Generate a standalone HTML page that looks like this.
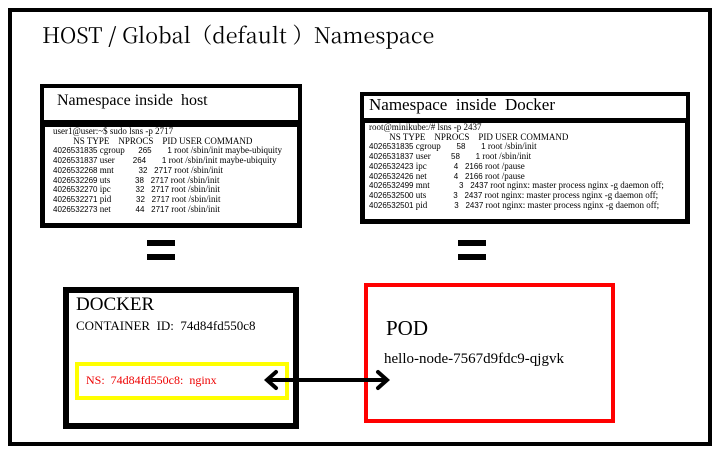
<!DOCTYPE html>
<html><head><style>
body{margin:0;width:720px;height:453px;background:#fff;position:relative;overflow:hidden;font-family:"Liberation Serif",serif;}
.a{position:absolute;box-sizing:border-box;}
.t{position:absolute;white-space:pre;font-size:9px;line-height:9.7px;font-family:"Liberation Serif",serif;color:#000;}
.t b{font-weight:normal;font-family:"Liberation Sans",sans-serif;font-size:8px;}
.bar{position:absolute;background:#000;height:6px;width:28px;}
</style></head><body>
<div class="a" style="left:8px;top:8px;width:704px;height:438px;border:4px solid #000;"></div>
<div class="a" style="left:42px;top:19px;font-size:21.5px;white-space:pre;font-family:'Noto Serif CJK SC','Liberation Serif',serif;">HOST <b>/</b> Global（default ）Namespace</div>

<div class="a" style="left:40px;top:84px;width:262px;height:40px;border:4px solid #000;"></div>
<div class="a" style="left:57px;top:92px;font-size:16px;white-space:pre;">Namespace inside  host</div>
<div class="a" style="left:40px;top:122px;width:262px;height:106px;border:5px solid #000;"></div>
<div class="t" style="left:53px;top:127px;">user1@user:~$ sudo lsns -p 2717
         NS TYPE    NPROCS    PID USER COMMAND
<b>4026531835</b> cgroup      <b>265</b>       <b>1</b> root /sbin/init maybe-ubiquity
<b>4026531837</b> user        <b>264</b>       <b>1</b> root /sbin/init maybe-ubiquity
<b>4026532268</b> mnt           <b>32</b>   <b>2717</b> root /sbin/init
<b>4026532269</b> uts           <b>38</b>   <b>2717</b> root /sbin/init
<b>4026532270</b> ipc           <b>32</b>   <b>2717</b> root /sbin/init
<b>4026532271</b> pid           <b>32</b>   <b>2717</b> root /sbin/init
<b>4026532273</b> net           <b>44</b>   <b>2717</b> root /sbin/init</div>

<div class="a" style="left:360px;top:92px;width:330px;height:30px;border:4px solid #000;"></div>
<div class="a" style="left:369px;top:95px;font-size:17px;white-space:pre;">Namespace  inside  Docker</div>
<div class="a" style="left:360px;top:118px;width:330px;height:106px;border:5px solid #000;"></div>
<div class="t" style="left:369px;top:123px;">root@minikube:/# lsns -p 2437
         NS TYPE    NPROCS    PID USER COMMAND
<b>4026531835</b> cgroup       <b>58</b>       <b>1</b> root /sbin/init
<b>4026531837</b> user         <b>58</b>       <b>1</b> root /sbin/init
<b>4026532423</b> ipc            <b>4</b>   <b>2166</b> root /pause
<b>4026532426</b> net            <b>4</b>   <b>2166</b> root /pause
<b>4026532499</b> mnt             <b>3</b>   <b>2437</b> root nginx: master process nginx -g daemon off;
<b>4026532500</b> uts            <b>3</b>   <b>2437</b> root nginx: master process nginx -g daemon off;
<b>4026532501</b> pid            <b>3</b>   <b>2437</b> root nginx: master process nginx -g daemon off;</div>

<div class="bar" style="left:147px;top:240px;"></div>
<div class="bar" style="left:147px;top:254px;"></div>
<div class="bar" style="left:458px;top:240px;"></div>
<div class="bar" style="left:458px;top:254px;"></div>

<div class="a" style="left:63px;top:287px;width:236px;height:142px;border:6px solid #000;"></div>
<div class="a" style="left:76px;top:294px;font-size:19px;">DOCKER</div>
<div class="a" style="left:76px;top:318px;font-size:13px;white-space:pre;">CONTAINER  ID:  74d84fd550c8</div>
<div class="a" style="left:75px;top:362px;width:214px;height:38px;border:4px solid #ff0;"></div>
<div class="a" style="left:86px;top:373px;font-size:12px;color:#e00;white-space:pre;">NS:  74d84fd550c8:  nginx</div>

<div class="a" style="left:364px;top:283px;width:251px;height:140px;border:4px solid #f00;"></div>
<div class="a" style="left:386px;top:316px;font-size:21px;">POD</div>
<div class="a" style="left:384px;top:351px;font-size:15px;white-space:pre;">hello-node-7567d9fdc9-qjgvk</div>

<svg class="a" style="left:0;top:0;" width="720" height="453">
<line x1="268" y1="380" x2="386" y2="380" stroke="#000" stroke-width="4"/>
<polyline points="276,372 267,380 276,388" fill="none" stroke="#000" stroke-width="4" stroke-linecap="round"/>
<polyline points="378,372 387,380 378,388" fill="none" stroke="#000" stroke-width="4" stroke-linecap="round"/>
</svg>
</body></html>
